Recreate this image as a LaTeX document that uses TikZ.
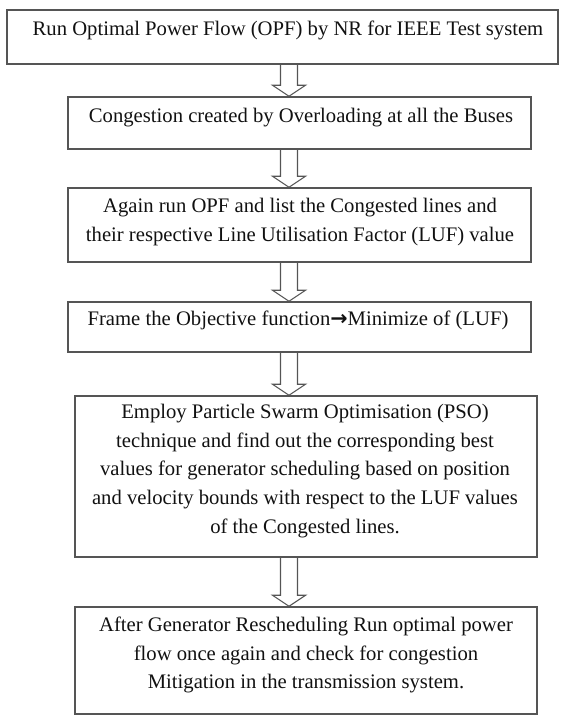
\documentclass[tikz,border=0pt]{standalone}
\usepackage{fontspec}
\setmainfont{Liberation Serif}
\newfontfamily\symfont{DejaVu Sans}
\usepackage{xcolor}
\usepackage{tikz}
\usetikzlibrary{calc}
\definecolor{edge}{HTML}{555555}
\definecolor{ink}{HTML}{111111}
\tikzset{
  stepbox/.style={draw=edge, line width=1.1pt, rectangle, inner sep=0pt},
  steptext/.style={ink, align=center, font=\fontsize{15.5}{21.4}\selectfont, inner sep=0pt},
  arrowline/.style={draw=edge, line width=0.8pt, line join=miter}
}
% hollow block arrow from the bottom of #1 to the top of #2
\newcommand{\hollowarrow}[2]{%
  \draw[arrowline] ($(#1.south -| ax)+(-8.5,0)$) -- ($(#2.north -| ax)+(-8.5,-11)$)
    -- ($(#2.north -| ax)+(-16.5,-11)$) -- (#2.north -| ax)
    -- ($(#2.north -| ax)+(16.5,-11)$) -- ($(#2.north -| ax)+(8.5,-11)$)
    -- ($(#1.south -| ax)+(8.5,0)$);}
\begin{document}
\begin{tikzpicture}[x=0.75pt, y=-0.75pt]
  \useasboundingbox (0,0) rectangle (568,716);
  % Boxes
  \node[stepbox, minimum width=413.25pt, minimum height=40.5pt] (b1) at (282.5, 37) {};
  \node[stepbox, minimum width=347.25pt, minimum height=39pt] (b2) at (299.5, 123) {};
  \node[stepbox, minimum width=347.25pt, minimum height=55.5pt] (b3) at (299.5, 225) {};
  \node[stepbox, minimum width=347.25pt, minimum height=37.5pt] (b4) at (299.5, 327) {};
  \node[stepbox, minimum width=346.5pt, minimum height=120.75pt] (b5) at (306, 476.5) {};
  \node[stepbox, minimum width=346.5pt, minimum height=80.25pt] (b6) at (306, 660.5) {};
  % Texts
  \node[steptext] (t1) at (288, 30) {Run Optimal Power Flow (OPF) by NR for IEEE Test system};
  \node[steptext] (t2) at (301, 118) {Congestion created by Overloading at all the Buses};
  \node[steptext] (t3) at (300, 222) {Again run OPF and list the Congested lines and\\
    their respective Line Utilisation Factor (LUF) value};
  \node[steptext] (t4) at (298, 320) {Frame the Objective function{\symfont\bfseries →}Minimize of (LUF)};
  \node[steptext] (t5) at (305, 471) {Employ Particle Swarm Optimisation (PSO)\\
    technique and find out the corresponding best\\
    values for generator scheduling based on position\\
    and velocity bounds with respect to the LUF values\\
    of the Congested lines.};
  \node[steptext] (t6) at (306, 655) {After Generator Rescheduling Run optimal power\\
    flow once again and check for congestion\\
    Mitigation in the transmission system.};
  % Arrows
  \coordinate (ax) at (289, 0);
  \hollowarrow{b1}{b2}
  \hollowarrow{b2}{b3}
  \hollowarrow{b3}{b4}
  \hollowarrow{b4}{b5}
  \hollowarrow{b5}{b6}
\end{tikzpicture}
\end{document}
